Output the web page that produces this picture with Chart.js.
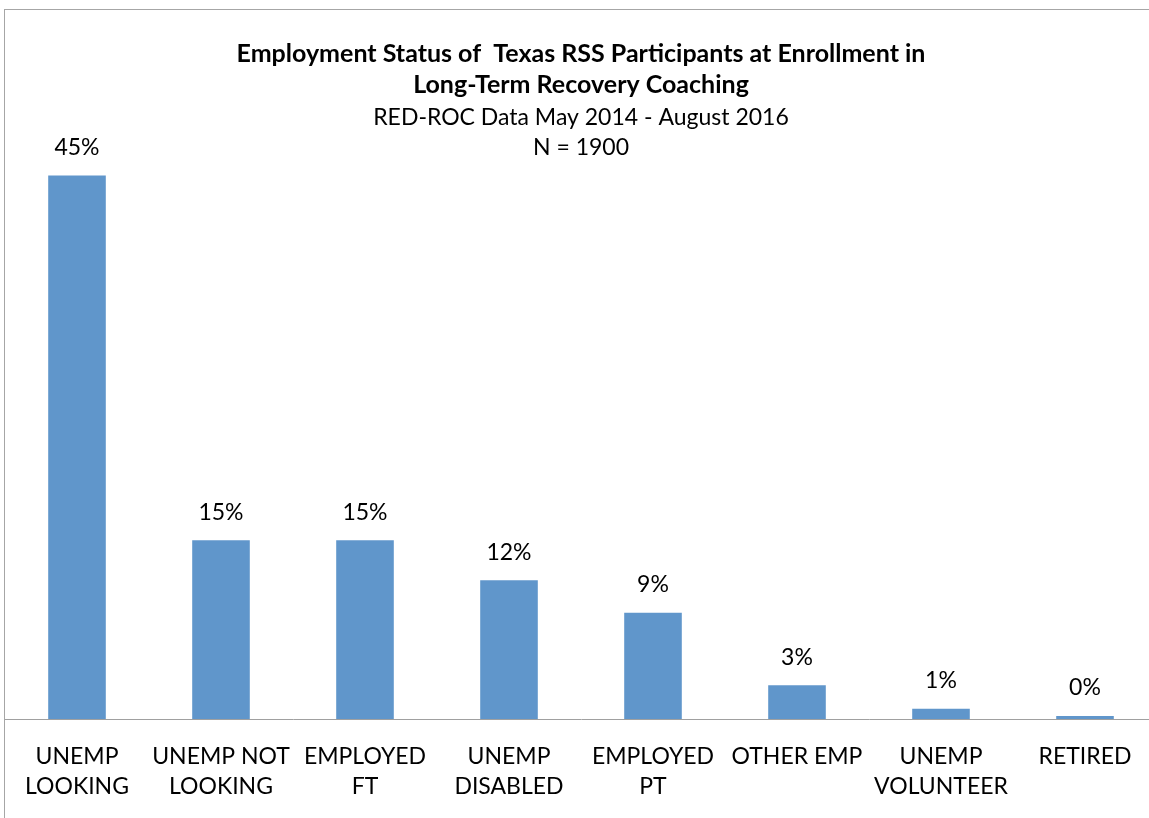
<!DOCTYPE html>
<html>
<head>
<meta charset="utf-8">
<script src="https://cdn.jsdelivr.net/npm/chart.js@4.4.1/dist/chart.umd.min.js"></script>
<style>
  html, body { margin: 0; padding: 0; background: #fff; overflow: hidden; }
  #wrap {
    position: absolute; left: 4px; top: 9px;
    width: 1152px; height: 830px;
    border: 1px solid #a6a6a6;
  }
</style>
</head>
<body>
<div id="wrap"><canvas id="barChart"></canvas></div>
<script>
const categories = [
  ['UNEMP', 'LOOKING'],
  ['UNEMP NOT', 'LOOKING'],
  ['EMPLOYED', 'FT'],
  ['UNEMP', 'DISABLED'],
  ['EMPLOYED', 'PT'],
  ['OTHER EMP'],
  ['UNEMP', 'VOLUNTEER'],
  ['RETIRED']
];
// percent of participants
const percentValues = [45.0, 14.8, 14.8, 11.5, 8.8, 2.8, 0.85, 0.25];
const titleLines = [
  'Employment Status of  Texas RSS Participants at Enrollment in',
  'Long-Term Recovery Coaching'
];
const subtitleLines = ['RED-ROC Data May 2014 - August 2016', 'N = 1900'];

const FONT = 'Lato, "Open Sans", sans-serif';

const barLabels = {
  id: 'barLabels',
  afterDatasetsDraw(chart) {
    const c = chart.ctx;
    const meta = chart.getDatasetMeta(0);
    c.save();
    c.font = '23px ' + FONT;
    c.fillStyle = '#000';
    c.textAlign = 'center';
    c.textBaseline = 'alphabetic';
    meta.data.forEach(function (bar, i) {
      c.fillText(Math.round(percentValues[i]) + '%', bar.x, bar.y - 20.5);
    });
    c.restore();
  }
};

const ctx = document.getElementById('barChart').getContext('2d');
new Chart(ctx, {
  type: 'bar',
  data: {
    labels: categories,
    datasets: [{
      data: percentValues,
      backgroundColor: '#6096CB',
      borderWidth: 0,
      barPercentage: 0.4,
      categoryPercentage: 1
    }]
  },
  options: {
    responsive: true,
    maintainAspectRatio: false,
    animation: false,
    layout: { padding: 0 },
    scales: {
      x: {
        offset: true,
        grid: { display: false, drawTicks: false },
        border: { display: true, color: '#a0a0a0', width: 1 },
        ticks: {
          color: '#000',
          font: { family: FONT, size: 23, lineHeight: 1.3 },
          padding: 23,
          maxRotation: 0,
          autoSkip: false
        },
        afterFit: function (scale) {
          scale.height = 121;
          scale.paddingLeft = 0;
          scale.paddingRight = 0;
        }
      },
      y: {
        display: false,
        min: 0,
        max: 46.03
      }
    },
    plugins: {
      legend: { display: false },
      tooltip: { enabled: false },
      title: {
        display: true,
        text: titleLines,
        color: '#000',
        font: { family: FONT, size: 25, weight: 'bold', lineHeight: 1.26 },
        padding: { top: 28, bottom: 0 }
      },
      subtitle: {
        display: true,
        text: subtitleLines,
        color: '#000',
        font: { family: FONT, size: 23, weight: 'normal', lineHeight: 1.33 },
        padding: { top: 1, bottom: 0 }
      }
    }
  },
  plugins: [barLabels]
});
</script>
</body>
</html>
